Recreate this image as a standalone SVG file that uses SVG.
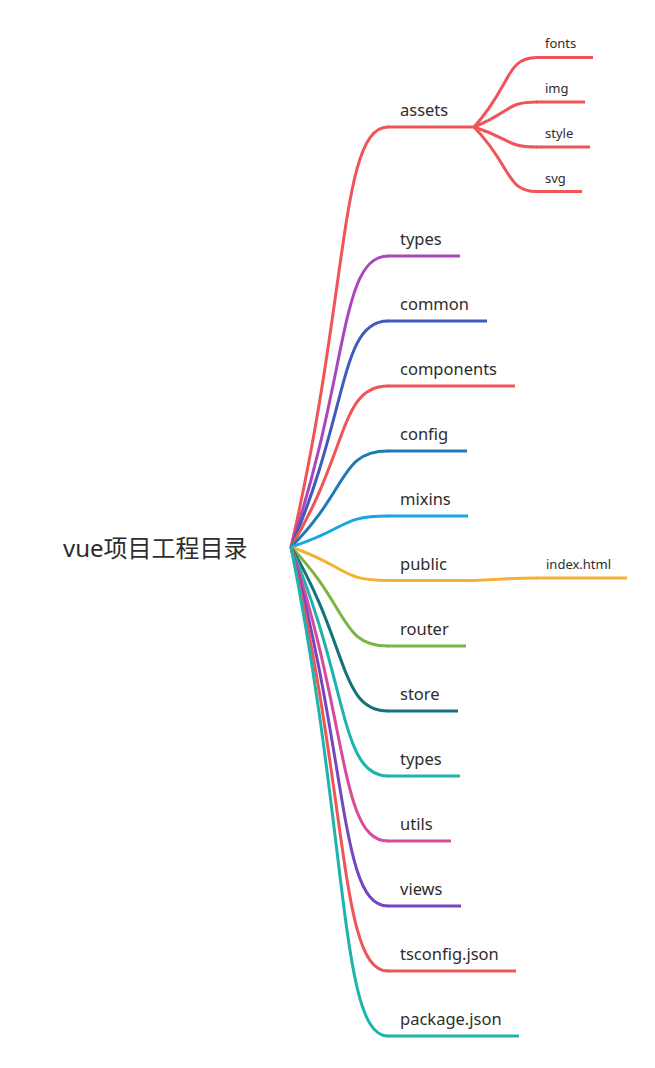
<svg xmlns="http://www.w3.org/2000/svg" width="655" height="1068" viewBox="0 0 655 1068">
<style>
text{font-family:"Noto Sans","Open Sans","Noto Sans CJK SC",sans-serif;fill:#2d2d2d}
.lbl{font-size:16.5px}
.sub{font-size:13px}
.root{font-size:24px}
path,line{fill:none;stroke-width:3;stroke-linecap:butt}
.red{stroke:#ef5457}.pur{stroke:#ab47bc}.blu{stroke:#3f5bbd}.cfg{stroke:#1e7ab5}.sky{stroke:#16a6e3}.yel{stroke:#f4b132}.grn{stroke:#7cb342}.dtl{stroke:#13737a}.tel{stroke:#1cb4ad}.pnk{stroke:#d84a9a}.vio{stroke:#7347c0}
</style>
<rect width="655" height="1068" fill="#ffffff"/>
<g id="connectors">
<path class="red" d="M291,547 C349.2,295 339.5,127 388,127"/>
<path class="pur" d="M291,547 C349.2,372.4 339.5,256 388,256"/>
<path class="blu" d="M291,547 C349.2,411.4 339.5,321 388,321"/>
<path class="red" d="M291,547 C349.2,450.4 339.5,386 388,386"/>
<path class="cfg" d="M291,547 C349.2,489.4 339.5,451 388,451"/>
<path class="sky" d="M291,547 C349.2,528.4 339.5,516 388,516"/>
<path class="yel" d="M291,547 C349.2,567.1 339.5,580.5 388,580.5"/>
<path class="grn" d="M291,547 C349.2,606.4 339.5,646 388,646"/>
<path class="dtl" d="M291,547 C349.2,645.4 339.5,711 388,711"/>
<path class="tel" d="M291,547 C349.2,684.4 339.5,776 388,776"/>
<path class="pnk" d="M291,547 C349.2,723.4 339.5,841 388,841"/>
<path class="vio" d="M291,547 C349.2,762.4 339.5,906 388,906"/>
<path class="red" d="M291,547 C349.2,801.4 339.5,971 388,971"/>
<path class="tel" d="M291,547 C349.2,840.4 339.5,1036 388,1036"/>
<path class="red" d="M474,127 C511.8,85.3 505.5,57.5 537,57.5"/>
<path class="red" d="M474,127 C511.8,112 505.5,102 537,102"/>
<path class="red" d="M474,127 C511.8,139 505.5,147 537,147"/>
<path class="red" d="M474,127 C511.8,165.7 505.5,191.5 537,191.5"/>
<path class="yel" d="M474,580.5 C511.8,579 505.5,578 537,578"/>
</g>
<g id="root"><text class="root" x="63" y="557">vue项目工程目录</text></g>
<g id="assets"><line class="red" x1="387" y1="127" x2="474.5" y2="127"/><text class="lbl" x="400" y="116">assets</text></g>
<g id="fonts"><line class="red" x1="536" y1="57.5" x2="593" y2="57.5"/><text class="sub" x="545" y="48">fonts</text></g>
<g id="img"><line class="red" x1="536" y1="102" x2="585" y2="102"/><text class="sub" x="545" y="93">img</text></g>
<g id="style"><line class="red" x1="536" y1="147" x2="590" y2="147"/><text class="sub" x="545" y="138">style</text></g>
<g id="svg"><line class="red" x1="536" y1="191.5" x2="582" y2="191.5"/><text class="sub" x="545" y="183">svg</text></g>
<g id="types1"><line class="pur" x1="387" y1="256" x2="460" y2="256"/><text class="lbl" x="400" y="245">types</text></g>
<g id="common"><line class="blu" x1="387" y1="321" x2="487" y2="321"/><text class="lbl" x="400" y="310">common</text></g>
<g id="components"><line class="red" x1="387" y1="386" x2="515" y2="386"/><text class="lbl" x="400" y="375">components</text></g>
<g id="config"><line class="cfg" x1="387" y1="451" x2="467" y2="451"/><text class="lbl" x="400" y="440">config</text></g>
<g id="mixins"><line class="sky" x1="387" y1="516" x2="468" y2="516"/><text class="lbl" x="400" y="505">mixins</text></g>
<g id="public"><line class="yel" x1="387" y1="580.5" x2="474.5" y2="580.5"/><text class="lbl" x="400" y="569.5">public</text></g>
<g id="index-html"><line class="yel" x1="536" y1="578" x2="627" y2="578"/><text class="sub" x="546" y="569">index.html</text></g>
<g id="router"><line class="grn" x1="387" y1="646" x2="466" y2="646"/><text class="lbl" x="400" y="635">router</text></g>
<g id="store"><line class="dtl" x1="387" y1="711" x2="458" y2="711"/><text class="lbl" x="400" y="700">store</text></g>
<g id="types2"><line class="tel" x1="387" y1="776" x2="460" y2="776"/><text class="lbl" x="400" y="765">types</text></g>
<g id="utils"><line class="pnk" x1="387" y1="841" x2="451" y2="841"/><text class="lbl" x="400" y="830">utils</text></g>
<g id="views"><line class="vio" x1="387" y1="906" x2="461" y2="906"/><text class="lbl" x="400" y="895">views</text></g>
<g id="tsconfig"><line class="red" x1="387" y1="971" x2="516" y2="971"/><text class="lbl" x="400" y="960">tsconfig.json</text></g>
<g id="package"><line class="tel" x1="387" y1="1036" x2="519" y2="1036"/><text class="lbl" x="400" y="1025">package.json</text></g>
</svg>
